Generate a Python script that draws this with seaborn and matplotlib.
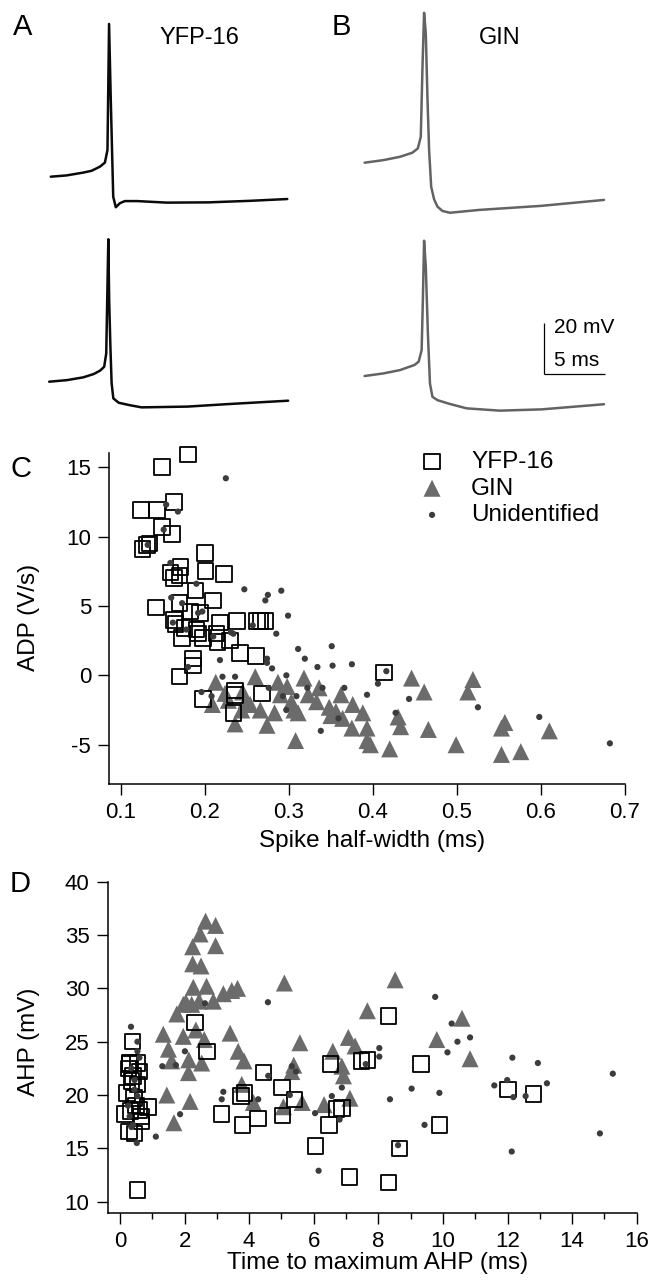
import numpy as np
import pandas as pd
import matplotlib
matplotlib.use("Agg")
import matplotlib.pyplot as plt
import seaborn as sns

# ---------------------------------------------------------------- data
# Example action potentials (time in ms, membrane potential in mV)
yfp_top_t = [0, 1.29, 2.65, 3.33, 4.01, 4.42, 4.63, 4.76, 4.90, 5.10, 5.31, 5.65, 6.05, 7.07, 9.46, 12.86, 16.26, 19.32]
yfp_top_v = [-60, -59.5, -58.4, -57.7, -56.1, -54.5, -49.6, -0.5, -30.1, -67.8, -71.9, -70.3, -69.5, -69.5, -70.1, -70.0, -69.4, -68.7]

yfp_bot_t = [0, 1.43, 2.79, 3.64, 4.15, 4.49, 4.66, 4.83, 4.90, 5.00, 5.10, 5.24, 5.68, 6.53, 7.55, 11.29, 14.69, 19.52]
yfp_bot_v = [-60, -59.4, -58.3, -57.0, -55.7, -54.2, -49.0, -4.5, -28.2, -46.4, -60.6, -66.5, -68.2, -69.1, -70.0, -69.7, -68.7, -67.4]

gin_top_t = [0, 1.53, 2.89, 3.91, 4.35, 4.59, 4.73, 4.86, 5.00, 5.14, 5.27, 5.44, 5.68, 5.95, 6.36, 6.97, 9.35, 14.46, 19.56]
gin_top_v = [-60, -59.0, -57.7, -56.1, -54.4, -49.9, -22.6, -1.6, -9.6, -35.6, -55.1, -69.4, -74.3, -77.1, -78.8, -79.5, -78.4, -76.8, -74.5]

gin_bot_t = [0, 1.53, 2.89, 4.08, 4.42, 4.66, 4.76, 4.86, 5.00, 5.17, 5.34, 5.54, 5.95, 6.97, 8.33, 11.05, 14.46, 19.56]
gin_bot_v = [-60, -59.0, -57.7, -55.7, -54.4, -49.9, -30.4, -7.3, -17.4, -43.4, -62.9, -68.1, -69.4, -70.9, -72.6, -73.5, -73.0, -71.0]

# Panel C: spike half-width (ms) vs ADP (V/s)
c_yfp_x = [0.149, 0.180, 0.124, 0.143, 0.163, 0.149, 0.161, 0.126, 0.134, 0.131, 0.200, 0.201, 0.223,
           0.159, 0.171, 0.163, 0.170, 0.189, 0.210, 0.142, 0.170, 0.183, 0.163, 0.165, 0.176, 0.173,
           0.190, 0.194, 0.192, 0.198, 0.218, 0.214, 0.215, 0.230, 0.238, 0.262, 0.266, 0.272, 0.242,
           0.261, 0.186, 0.186, 0.170, 0.198, 0.236, 0.236, 0.268, 0.234, 0.413]
c_yfp_y = [15.0, 15.9, 11.9, 11.9, 12.5, 10.7, 10.2, 9.1, 9.5, 9.4, 8.8, 7.5, 7.3,
           7.4, 7.8, 7.0, 7.2, 6.1, 5.4, 4.9, 5.2, 4.6, 4.0, 3.7, 3.4, 2.7,
           3.3, 4.5, 3.0, 2.7, 3.8, 3.0, 2.4, 2.5, 3.9, 3.9, 3.9, 3.9, 1.6,
           1.4, 1.2, 0.7, -0.1, -1.7, -1.1, -1.4, -1.3, -2.7, 0.2]

c_gin_x = [0.213, 0.260, 0.287, 0.318, 0.298, 0.336, 0.323, 0.362, 0.446, 0.461, 0.519, 0.513, 0.209,
           0.228, 0.236, 0.254, 0.266, 0.274, 0.303, 0.311, 0.308, 0.348, 0.364, 0.376, 0.388, 0.393,
           0.375, 0.393, 0.397, 0.420, 0.430, 0.433, 0.466, 0.499, 0.553, 0.557, 0.553, 0.576, 0.610,
           0.244, 0.283, 0.333, 0.245, 0.290, 0.350, 0.224, 0.249, 0.306, 0.356]
c_gin_y = [-0.5, -0.1, -0.5, -0.2, -0.8, -0.9, -1.4, -1.4, -0.2, -1.2, -0.3, -1.2, -2.1,
           -1.8, -3.5, -2.1, -2.5, -3.6, -1.9, -2.7, -4.7, -2.3, -3.1, -2.1, -2.7, -3.8,
           -3.8, -4.7, -5.0, -5.3, -3.0, -3.7, -3.9, -5.0, -3.8, -3.4, -5.7, -5.5, -4.0,
           -2.5, -2.7, -1.9, -1.2, -1.4, -2.9, -1.3, -1.8, -2.5, -2.6]

c_unid_x = [0.225, 0.154, 0.168, 0.151, 0.132, 0.159, 0.190, 0.247, 0.275, 0.272, 0.291, 0.299, 0.160,
            0.173, 0.192, 0.197, 0.162, 0.257, 0.285, 0.234, 0.218, 0.180, 0.311, 0.351, 0.319, 0.334,
            0.352, 0.375, 0.274, 0.274, 0.280, 0.221, 0.236, 0.297, 0.322, 0.340, 0.366, 0.393, 0.406,
            0.416, 0.443, 0.293, 0.309, 0.196, 0.208, 0.276, 0.297, 0.338, 0.359, 0.427, 0.525, 0.598,
            0.682, 0.231, 0.178, 0.210]
c_unid_y = [14.2, 12.3, 11.8, 10.5, 9.4, 8.1, 6.6, 6.2, 5.8, 5.4, 6.1, 4.3, 5.6,
            5.2, 4.5, 4.6, 3.8, 3.6, 3.0, 3.0, 1.1, 0.6, 1.9, 2.1, 1.2, 0.6,
            0.7, 0.8, 1.2, 0.9, 0.5, -0.1, -0.1, 0.0, -0.9, -0.9, -0.9, -1.4, -0.6,
            0.3, -1.7, -1.5, -1.5, -1.2, -1.5, -0.9, -2.5, -4.0, -3.1, -2.7, -2.3, -3.0,
            -4.9, 3.1, 3.3, 2.8]

# Panel D: time to maximum AHP (ms) vs AHP amplitude (mV)
d_yfp_x = [0.39, 0.31, 0.54, 0.26, 0.41, 0.54, 0.22, 0.44, 0.86, 0.61, 0.15, 0.67, 0.28, 0.45, 0.54,
           2.32, 2.70, 4.44, 5.02, 5.40, 5.03, 3.15, 3.75, 3.85, 3.80, 4.28, 6.52, 6.48, 6.70, 6.87,
           6.05, 7.10, 8.32, 7.48, 7.66, 8.65, 8.31, 9.32, 9.90, 12.02, 12.80, 0.30, 0.60, 0.35, 0.50,
           0.33, 0.65]
d_yfp_y = [25.0, 23.0, 23.0, 22.5, 21.8, 21.0, 20.2, 19.7, 18.9, 18.6, 18.2, 17.5, 16.6, 16.4, 11.1,
           26.8, 24.1, 22.1, 20.7, 19.6, 18.1, 18.2, 19.9, 20.2, 17.2, 17.8, 22.9, 17.2, 18.7, 18.8,
           15.2, 12.3, 27.4, 23.2, 23.3, 15.0, 11.8, 22.9, 17.2, 20.5, 20.1, 22.9, 22.2, 21.3, 19.0,
           18.5, 18.0]

d_gin_x = [2.65, 2.96, 2.48, 2.25, 2.96, 2.25, 2.51, 2.27, 2.68, 1.96, 1.76, 2.22, 2.89, 3.20, 3.46,
           3.64, 2.04, 2.45, 5.09, 8.52, 7.66, 10.59, 9.81, 10.84, 1.34, 1.50, 1.60, 1.96, 2.35, 2.12,
           2.53, 2.61, 2.13, 1.45, 2.17, 1.67, 3.41, 3.66, 3.84, 3.77, 4.13, 5.57, 5.38, 5.32, 5.06,
           5.64, 6.59, 6.32, 7.07, 7.28, 6.92, 6.87, 7.12]
d_gin_y = [36.3, 35.9, 35.1, 33.9, 34.0, 32.3, 32.1, 30.1, 30.2, 28.5, 27.6, 28.5, 28.8, 29.5, 29.8,
           30.0, 28.7, 28.8, 30.5, 30.8, 27.9, 27.2, 25.2, 23.4, 25.7, 24.3, 23.2, 25.5, 26.1, 22.1,
           23.0, 25.2, 23.3, 20.0, 19.4, 17.4, 25.8, 24.1, 23.2, 21.0, 19.3, 24.9, 22.8, 22.2, 18.9,
           19.3, 24.1, 19.1, 25.4, 24.6, 21.8, 22.7, 19.7]

d_unid_x = [0.34, 0.54, 0.54, 0.35, 0.45, 0.54, 0.41, 0.52, 1.11, 1.86, 1.31, 1.73, 2.01, 2.63, 4.58,
            3.20, 3.15, 4.28, 4.59, 5.26, 5.32, 5.45, 6.04, 6.15, 6.56, 6.87, 6.80, 7.61, 8.03, 8.03,
            8.36, 8.61, 9.03, 9.43, 9.76, 9.89, 10.14, 10.27, 10.45, 10.84, 11.59, 11.99, 12.15, 12.18,
            12.56, 12.13, 12.94, 13.22, 14.86, 15.26, 0.30, 0.60, 0.45, 0.35, 0.25]
d_unid_y = [26.4, 25.0, 24.1, 22.5, 21.4, 19.9, 17.2, 15.5, 16.1, 18.2, 22.7, 22.8, 24.1, 28.6, 28.7,
            20.3, 19.6, 19.6, 21.8, 20.0, 22.7, 22.2, 18.3, 12.9, 19.9, 20.7, 17.7, 22.9, 24.4, 23.6,
            19.6, 15.3, 20.6, 17.2, 29.2, 20.2, 24.0, 26.7, 25.0, 25.4, 20.9, 21.4, 23.5, 19.8,
            19.9, 14.7, 23.0, 21.1, 16.4, 22.0, 18.0, 23.5, 20.5, 17.0, 19.0]

c_xticks = [0.1, 0.2, 0.3, 0.4, 0.5, 0.6, 0.7]
c_yticks = [-5, 0, 5, 10, 15]
d_xticks = [0, 2, 4, 6, 8, 10, 12, 14, 16]
d_yticks = [10, 15, 20, 25, 30, 35, 40]

# ---------------------------------------------------------------- style
sns.set_style("ticks")
plt.rcParams["font.family"] = ["Liberation Sans", "DejaVu Sans"]
plt.rcParams["axes.unicode_minus"] = False
for key in ("text.color", "axes.labelcolor", "xtick.color", "ytick.color", "axes.edgecolor"):
    plt.rcParams[key] = "black"

W, H = 653, 1281
fig = plt.figure(figsize=(W / 100, H / 100), dpi=100)

BLACK = "#0a0a0a"
GIN_GREY = "#6b6b6b"
TRACE_GREY = "#636363"
DOT = "#3c3c3c"


def px_axes(left, top, right, bottom):
    """Axes placed by pixel edges measured from the top-left corner."""
    return fig.add_axes([left / W, 1 - bottom / H, (right - left) / W, (bottom - top) / H])


# ---------------------------------------------------------------- traces
PX_MS = 12.24   # pixels per millisecond
PX_MV = 2.567   # pixels per millivolt
T_LIM = (-1.0, 21.0)
V_LIM = (-85.0, 5.0)


def trace_axes(px0, py0):
    left = px0 + T_LIM[0] * PX_MS
    right = px0 + T_LIM[1] * PX_MS
    top = py0 - (V_LIM[1] + 60) * PX_MV
    bottom = py0 + (-60 - V_LIM[0]) * PX_MV
    ax = px_axes(left, top, right, bottom)
    ax.set_xlim(*T_LIM)
    ax.set_ylim(*V_LIM)
    ax.set_axis_off()
    ax.patch.set_alpha(0)
    return ax


traces = [
    (50.8, 176.7, yfp_top_t, yfp_top_v, BLACK),
    (49.2, 381.7, yfp_bot_t, yfp_bot_v, BLACK),
    (364.6, 162.7, gin_top_t, gin_top_v, TRACE_GREY),
    (364.6, 376.0, gin_bot_t, gin_bot_v, TRACE_GREY),
]
trace_axs = []
for px0, py0, tt, vv, col in traces:
    ax = trace_axes(px0, py0)
    sns.lineplot(x=tt, y=vv, ax=ax, sort=False, estimator=None, color=col,
                 linewidth=1.8, legend=False)
    ax.set_axis_off()
    trace_axs.append(ax)

# scale bar: 20 mV, 5 ms
sb = trace_axs[3]
sb_t0, sb_v0 = 14.66, -59.2
sb.plot([sb_t0, sb_t0], [sb_v0, sb_v0 + 20], color="black", lw=0.9, solid_capstyle="butt")
sb.plot([sb_t0, sb_t0 + 5], [sb_v0, sb_v0], color="black", lw=0.9, solid_capstyle="butt")
sb.text(sb_t0 + 0.8, sb_v0 + 17.9, "20 mV", fontsize=15, ha="left", va="center")
sb.text(sb_t0 + 0.8, sb_v0 + 5.4, "5 ms", fontsize=15, ha="left", va="center")


def ftext(x, y, s, **kw):
    fig.text(x / W, 1 - y / H, s, **kw)


ftext(22.5, 27, "A", fontsize=21, ha="center", va="center")
ftext(341, 27, "B", fontsize=21, ha="center", va="center")
ftext(199, 37.5, "YFP-16", fontsize=17, ha="center", va="center")
ftext(500, 37.5, "GIN", fontsize=17, ha="center", va="center")


# ---------------------------------------------------------------- scatter panels
SQ = dict(marker="s", s=125, facecolor="none", edgecolor="black", linewidth=1.3, zorder=3, clip_on=False)
TRI = dict(marker="^", s=150, color=GIN_GREY, edgecolor="none", linewidth=0, zorder=2, clip_on=False)
DOTK = dict(marker="o", s=20, color=DOT, edgecolor="none", linewidth=0, zorder=4, clip_on=False)


def style_axes(ax):
    for side in ("top", "right"):
        ax.spines[side].set_visible(False)
    for side in ("left", "bottom"):
        ax.spines[side].set_linewidth(1.1)
        ax.spines[side].set_color("black")
    ax.tick_params(which="major", direction="out", length=8, width=1.0, labelsize=16,
                   pad=5, color="black", labelcolor="black")
    ax.grid(False)
    ax.set_xlabel("")
    ax.set_ylabel("")


# Panel C
axC = px_axes(109.2, 453.3, 625.0, 784.0)
sns.scatterplot(x=c_gin_x, y=c_gin_y, ax=axC, label="GIN", **TRI)
sns.scatterplot(x=c_yfp_x, y=c_yfp_y, ax=axC, label="YFP-16", **SQ)
sns.scatterplot(x=c_unid_x, y=c_unid_y, ax=axC, label="Unidentified", **DOTK)
axC.set_xlim(0.0862, 0.7)
axC.set_ylim(-7.83, 16)
axC.set_xticks(c_xticks)
axC.set_xticklabels([f"{v:.1f}" for v in c_xticks])
axC.set_yticks(c_yticks)
axC.set_yticklabels([str(v) for v in c_yticks])
style_axes(axC)

handles, labels = axC.get_legend_handles_labels()
order = [labels.index(n) for n in ("YFP-16", "GIN", "Unidentified")]
leg_fs = 17.5
axC.legend([handles[i] for i in order], [labels[i] for i in order],
           loc="upper left", bbox_to_anchor=(419.9 / W, 1 - 451 / H),
           bbox_transform=fig.transFigure, frameon=False, fontsize=leg_fs,
           handlelength=1.0, handletextpad=1.1, labelspacing=0.19,
           borderpad=0, borderaxespad=0)

ftext(21, 469, "C", fontsize=21, ha="center", va="center")
ftext(29, 617, "ADP (V/s)", fontsize=17.5, rotation=90, ha="center", va="center")
ftext(371.7, 841, "Spike half-width (ms)", fontsize=17.5, ha="center", va="center")

# Panel D
axD = px_axes(107.5, 881.7, 636.7, 1213.3)
sns.scatterplot(x=d_gin_x, y=d_gin_y, ax=axD, legend=False, **TRI)
sns.scatterplot(x=d_yfp_x, y=d_yfp_y, ax=axD, legend=False, **SQ)
sns.scatterplot(x=d_unid_x, y=d_unid_y, ax=axD, legend=False, **DOTK)
axD.set_xlim(-0.387, 16)
axD.set_ylim(8.91, 40)
axD.set_xticks(d_xticks)
axD.set_xticklabels([str(v) for v in d_xticks])
axD.set_xticks(np.arange(1, 16, 2), minor=True)
axD.set_yticks(d_yticks)
axD.set_yticklabels([str(v) for v in d_yticks])
style_axes(axD)
axD.tick_params(which="minor", direction="out", length=4, width=1.0, color="black")
if axD.get_legend() is not None:
    axD.get_legend().remove()

ftext(20, 884, "D", fontsize=21, ha="center", va="center")
ftext(29, 1042, "AHP (mV)", fontsize=17.5, rotation=90, ha="center", va="center")
ftext(378, 1263, "Time to maximum AHP (ms)", fontsize=17.5, ha="center", va="center")

fig.savefig("out.png", dpi=100, facecolor="white")
